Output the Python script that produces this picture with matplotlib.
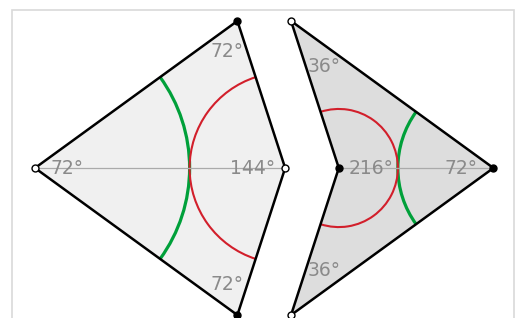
import numpy as np
import matplotlib
matplotlib.use("Agg")
import matplotlib.pyplot as plt
from matplotlib.patches import Polygon, Arc, Rectangle

phi = (1 + np.sqrt(5)) / 2

# kite: vertices left, top, right, bottom (angles in degrees)
kite_angles = [72, 72, 144, 72]
kite_open = [True, False, True, False]
# dart: vertices top, notch, bottom, tip
dart_angles = [36, 216, 36, 72]
dart_open = [True, False, True, False]
side_long = phi
side_short = 1.0
dart_shift = 1.656

# kite geometry
c36, s36 = np.cos(np.radians(36)), np.sin(np.radians(36))
kite = np.array([
    [0, 0],
    [side_long * c36, side_long * s36],
    [side_long, 0],
    [side_long * c36, -side_long * s36],
])
dart = np.array([
    [dart_shift, side_long * s36],
    [dart_shift + side_long * c36 - side_short, 0],
    [dart_shift, -side_long * s36],
    [dart_shift + side_long * c36, 0],
])

fig = plt.figure(figsize=(5.18, 3.18), dpi=100)
ax = fig.add_axes([0, 0, 1, 1])
ax.set_xlim(-0.2264, 3.124)
ax.set_ylim(-0.970, 1.0867)
ax.axis("off")

ax.add_patch(Rectangle((-0.149, -1.2), 3.247, 2.222, fill=False,
                       edgecolor="#d9d9d9", lw=1.2))

ax.add_patch(Polygon(kite, closed=True, facecolor="#f0f0f0", edgecolor="none"))
ax.add_patch(Polygon(dart, closed=True, facecolor="#dddddd", edgecolor="none"))

# axis lines
ax.plot([kite[0, 0], kite[2, 0]], [0, 0], color="#aaaaaa", lw=0.9)
ax.plot([dart[1, 0], dart[3, 0]], [0, 0], color="#aaaaaa", lw=0.9)

green = "#00a03a"
red = "#d21f2b"
# kite arcs
ax.add_patch(Arc(kite[0], 2 * side_short, 2 * side_short, theta1=-36, theta2=36,
                 color=green, lw=2.3))
r = side_short / phi
ax.add_patch(Arc(kite[2], 2 * r, 2 * r, theta1=108, theta2=252, color=red, lw=1.5))
# dart arcs
ax.add_patch(Arc(dart[3], 2 * r, 2 * r, theta1=144, theta2=216, color=green, lw=2.3))
r2 = side_short / phi ** 2
ax.add_patch(Arc(dart[1], 2 * r2, 2 * r2, theta1=-108, theta2=108, color=red, lw=1.5))

# edges
for pts in (kite, dart):
    closed = np.vstack([pts, pts[:1]])
    ax.plot(closed[:, 0], closed[:, 1], color="black", lw=1.8,
            solid_joinstyle="miter")


def labels(pts, angles, opens):
    n = len(pts)
    for i in range(n):
        p = pts[i]
        u = pts[i - 1] - p
        v = pts[(i + 1) % n] - p
        b = u / np.linalg.norm(u) + v / np.linalg.norm(v)
        b = b / np.linalg.norm(b)
        if angles[i] > 180:
            b = -b
        d = 0.36 if angles[i] < 60 else 0.21
        q = p + d * b
        ax.text(q[0], q[1], f"{angles[i]}°", fontsize=13.5, color="#8a8a8a",
                ha="center", va="center")
        ax.plot(p[0], p[1], "o", ms=5, mfc="white" if opens[i] else "black",
                mec="black", mew=1, zorder=5)


labels(kite, kite_angles, kite_open)
labels(dart, dart_angles, dart_open)

fig.savefig("out.png", dpi=100)
